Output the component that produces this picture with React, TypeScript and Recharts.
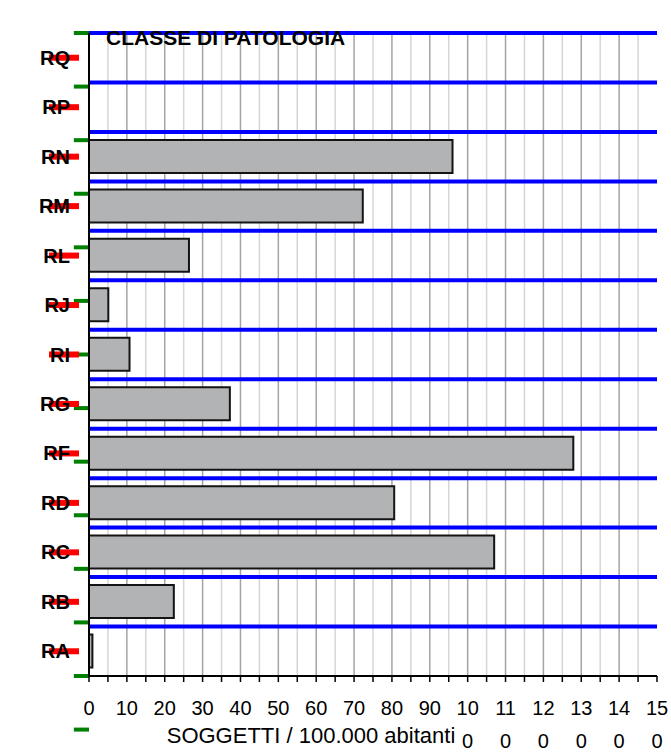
import { BarChart, Bar, XAxis, YAxis, CartesianGrid, ReferenceLine } from "recharts";

const categories = ["RQ", "RP", "RN", "RM", "RL", "RJ", "RI", "RG", "RF", "RD", "RC", "RB", "RA"];
const values = [0, 0, 96, 72.3, 26.4, 5.1, 10.7, 37.2, 127.9, 80.6, 107, 22.4, 0.9];

const xTicks = [0, 5, 10, 15, 20, 25, 30, 35, 40, 45, 50, 55, 60, 65, 70, 75, 80, 85, 90, 95, 100, 105, 110, 115, 120, 125, 130, 135, 140, 145, 150];
const majorLines = [10, 20, 30, 40, 50, 60, 70, 80, 90, 100, 110, 120, 130, 140];
const minorLines = [5, 15, 25, 35, 45, 55, 65, 75, 85, 95, 105, 115, 125, 135, 145];
const bandEdges = [0, 1, 2, 3, 4, 5, 6, 7, 8, 9, 10, 11, 12, 13];

const axisTitle = "SOGGETTI / 100.000 abitanti";
const title = "CLASSE DI PATOLOGIA";

const data = categories.map((name, i) => ({ name, value: values[i] }));
const FONT = "'Liberation Sans', Arial, sans-serif";

const XTick = ({ x, y, payload }: any) => {
  const v = payload.value;
  if (v % 10 !== 0) return null;
  const s = String(v);
  const lines = s.length > 2 ? [s.slice(0, 2), s.slice(2)] : [s];
  return (
    <g>
      {lines.map((t, i) => (
        <text key={i} x={x} y={y + 33 + i * 33} textAnchor="middle" fontSize={20} fontFamily={FONT} fill="#000">
          {t}
        </text>
      ))}
    </g>
  );
};

const YTick = ({ x, y, payload }: any) => (
  <g>
    <rect x={x - 40} y={y - 3} width={30} height={6} fill="red" />
    <text x={x - 19} y={y + 7} textAnchor="end" fontSize={20} fontWeight="bold" fontFamily={FONT} fill="#000">
      {payload.value}
    </text>
  </g>
);

const AxisLabel = (props: any) => {
  const vb = props.viewBox || { x: 89, y: 676 };
  return (
    <text x={vb.x + 222} y={vb.y + 67} textAnchor="middle" fontSize={22} fontFamily={FONT} fill="#000">
      {axisTitle}
    </text>
  );
};

export default function App() {
  return (
    <div style={{ position: "absolute", left: 0, top: 0, width: 671, height: 753, overflow: "hidden", background: "#fff" }}>
      <BarChart width={671} height={753} data={data} layout="vertical" margin={{ top: 33, right: 14, bottom: 17, left: 9 }}>
        <CartesianGrid horizontal={false} verticalValues={minorLines} stroke="#d6d6d6" strokeWidth={1.5} />
        <CartesianGrid horizontal={false} verticalValues={majorLines} stroke="#a4a4a4" strokeWidth={1.5} />
        <XAxis type="number" domain={[0, 150]} ticks={xTicks} interval={0} height={60} tick={<XTick />} tickSize={6} tickMargin={0}
          tickLine={{ stroke: "#000", strokeWidth: 1.5 }} axisLine={{ stroke: "#000", strokeWidth: 2 }} label={AxisLabel} />
        <YAxis type="category" dataKey="name" width={80} interval={0} tick={<YTick />} tickSize={0} tickMargin={0} tickLine={false}
          axisLine={{ stroke: "#000", strokeWidth: 2 }} />
        <YAxis yAxisId="edges" type="number" domain={[0, 13]} allowDataOverflow hide />
        <Bar dataKey="value" fill="#b2b3b5" stroke="#141414" strokeWidth={2} barSize={33} isAnimationActive={false} />
        {categories.map((c) => (
          <ReferenceLine key={c} position="start" ifOverflow="visible" y={c} stroke="blue" strokeWidth={4} />
        ))}
        {bandEdges.map((e) => (
          <ReferenceLine key={"e" + e} yAxisId="edges" ifOverflow="visible"
            segment={[{ x: -4, y: e }, { x: 0, y: e }]} stroke="green" strokeWidth={4} />
        ))}
      </BarChart>
      <svg width={671} height={753} style={{ position: "absolute", left: 0, top: 0, pointerEvents: "none" }}>
        <text x={106} y={45} fontSize={21} fontWeight="bold" fontFamily={FONT} fill="#000">{title}</text>
      </svg>
    </div>
  );
}
